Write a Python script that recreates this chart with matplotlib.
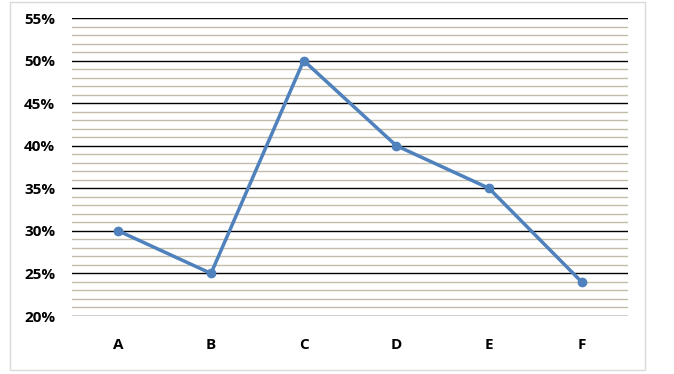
import numpy as np
import matplotlib.pyplot as plt
from matplotlib.patches import Rectangle
from matplotlib.ticker import MultipleLocator, FuncFormatter

categories = ["A", "B", "C", "D", "E", "F"]
values = [30, 25, 50, 40, 35, 24]  # percent

fig = plt.figure(figsize=(6.74, 3.74), dpi=100)
W, H = 674, 374
ax = fig.add_axes([72 / W, 1 - 316 / H, (628 - 72) / W, (316 - 18) / H])

# chart frame
fig.patches.append(Rectangle((10 / W, 1 - 370 / H), (645 - 10) / W, (370 - 2) / H,
                             transform=fig.transFigure, fill=False,
                             edgecolor="#D9D9D9", linewidth=1.0))

x = np.arange(len(categories))
ax.set_xlim(-0.5, len(categories) - 0.5)
ax.set_ylim(20, 55)

ax.yaxis.set_major_locator(MultipleLocator(5))
ax.yaxis.set_minor_locator(MultipleLocator(1))
ax.yaxis.set_major_formatter(FuncFormatter(lambda v, p: f"{v:.0f}%"))

ax.grid(which="minor", axis="y", color="#C2BDAA", linewidth=1.0)
ax.grid(which="major", axis="y", color="black", linewidth=1.0)
ax.set_axisbelow(True)
ax.axhline(20, color="#D0D0D8", linewidth=1.2, zorder=2)

for s in ax.spines.values():
    s.set_visible(False)
ax.tick_params(which="both", length=0)
ax.tick_params(axis="y", pad=12)
ax.tick_params(axis="x", pad=16)

ax.plot(x, values, color="#4F81BD", linewidth=2.5, marker="o",
        markersize=6, zorder=3, clip_on=False)

ax.set_xticks(x)
ax.set_xticklabels(categories)
for lbl in ax.get_xticklabels() + ax.get_yticklabels():
    lbl.set_fontweight("bold")
    lbl.set_fontsize(11)
    lbl.set_fontfamily("Open Sans")

fig.savefig("out.png", dpi=100)
